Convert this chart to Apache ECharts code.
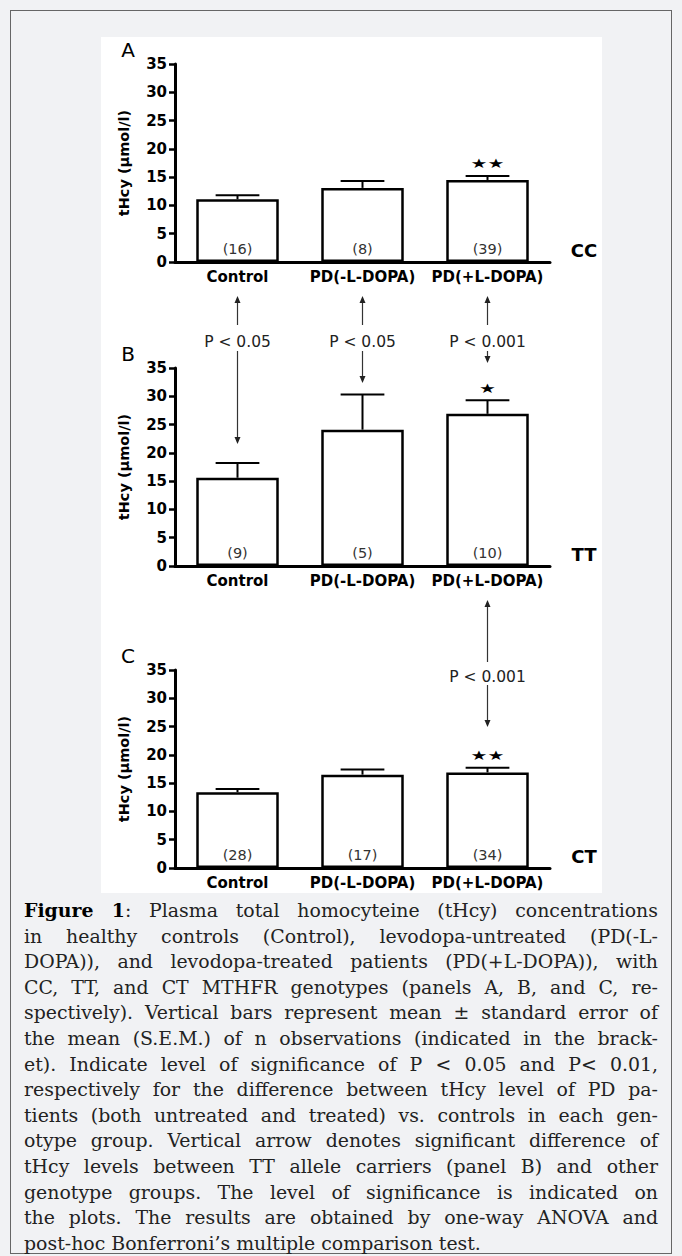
<!DOCTYPE html>
<html>
<head>
<meta charset="utf-8">
<script src="https://cdn.jsdelivr.net/npm/echarts@6/dist/echarts.min.js"></script>
<style>
html, body { margin: 0; padding: 0; background: #f1f2f4; }
body { width: 682px; height: 1256px; position: relative; overflow: hidden; }
.frame { position: absolute; left: 10px; top: 10px; width: 662px; height: 1244px; border: 1px solid #666; box-sizing: border-box; }
#chart { position: absolute; left: 101px; top: 37px; width: 501px; height: 856px; background: #fff; }
.caption { position: absolute; left: 24px; top: 898px; width: 634px; font-family: 'DejaVu Serif', serif; font-size: 18.9px; line-height: 25.6px; color: #222; }
.caption div { text-align: justify; text-align-last: justify; }
.caption div.last { text-align-last: left; }
.caption b { color: #000; }
</style>
</head>
<body>
<div class="frame"></div>
<div id="chart"></div>
<div class="caption">
  <div><b>Figure 1</b>: Plasma total homocyteine (tHcy) concentrations</div>
  <div>in healthy controls (Control), levodopa-untreated (PD(-L-</div>
  <div>DOPA)), and levodopa-treated patients (PD(+L-DOPA)), with</div>
  <div>CC, TT, and CT MTHFR genotypes (panels A, B, and C, re-</div>
  <div>spectively). Vertical bars represent mean ± standard error of</div>
  <div>the mean (S.E.M.) of n observations (indicated in the brack-</div>
  <div>et). Indicate level of significance of P &lt; 0.05 and P&lt; 0.01,</div>
  <div>respectively for the difference between tHcy level of PD pa-</div>
  <div>tients (both untreated and treated) vs. controls in each gen-</div>
  <div>otype group. Vertical arrow denotes significant difference of</div>
  <div>tHcy levels between TT allele carriers (panel B) and other</div>
  <div>genotype groups. The level of significance is indicated on</div>
  <div>the plots. The results are obtained by one-way ANOVA and</div>
  <div class="last">post-hoc Bonferroni’s multiple comparison test.</div>
</div>
<script>
// data
var categories = ['Control', 'PD(-L-DOPA)', 'PD(+L-DOPA)'];
var panelLetters = ['A', 'B', 'C'];
var genotypes = ['CC', 'TT', 'CT'];

var meanCC = [11.1, 13.1, 14.5];
var semCC = [0.7, 1.2, 0.7];
var nCC = [16, 8, 39];
var starsCC = ['', '', '★★'];

var meanTT = [15.6, 24.1, 26.9];
var semTT = [2.6, 6.2, 2.4];
var nTT = [9, 5, 10];
var starsTT = ['', '', '★'];

var meanCT = [13.4, 16.5, 16.9];
var semCT = [0.55, 0.9, 0.8];
var nCT = [28, 17, 34];
var starsCT = ['', '', '★★'];

var yMin = 0, yMax = 35, yStep = 5;

// significance between panel A and B (per category), and between B and C
var pAB = ['P < 0.05', 'P < 0.05', 'P < 0.001'];
var pBC = ['', '', 'P < 0.001'];

var means = [meanCC, meanTT, meanCT];
var sems = [semCC, semTT, semCT];
var ns = [nCC, nTT, nCT];
var stars = [starsCC, starsTT, starsCT];

// layout
var panelTop = [27, 331, 633];
var gridLeft = 74, gridWidth = 375, gridHeight = 198;
var font = 'DejaVu Sans';

var myChart = echarts.init(document.getElementById('chart'), null, { renderer: 'svg' });

function errorBars(panel) {
    return function (params, api) {
        var i = api.value(0);
        var base = api.coord([i, api.value(1)]);
        var top = api.coord([i, api.value(1) + api.value(2)]);
        var half = api.size([1, 0])[0] * 0.175;
        var children = [
            { type: 'line', shape: { x1: base[0], y1: base[1], x2: top[0], y2: top[1] }, style: { stroke: '#000', lineWidth: 2 } },
            { type: 'line', shape: { x1: top[0] - half, y1: top[1], x2: top[0] + half, y2: top[1] }, style: { stroke: '#000', lineWidth: 2 } }
        ];
        var s = stars[panel][params.dataIndex];
        if (s) {
            children.push({
                type: 'text', x: top[0], y: top[1] - 12, scaleX: 1.45,
                style: { text: s, fill: '#000', font: '13px ' + font, align: 'center', verticalAlign: 'middle' }
            });
        }
        return { type: 'group', children: children };
    };
}

var grids = [], xAxes = [], yAxes = [], series = [];
panelTop.forEach(function (t, i) {
    grids.push({ left: gridLeft, top: t, width: gridWidth, height: gridHeight });
    xAxes.push({
        type: 'category', gridIndex: i, data: categories,
        axisLine: { lineStyle: { color: '#000', width: 3 } },
        axisTick: { show: false },
        axisLabel: { interval: 0, margin: 7, color: '#000', fontFamily: font, fontWeight: 'bold', fontSize: 15 }
    });
    yAxes.push({
        type: 'value', gridIndex: i, min: yMin, max: yMax, interval: yStep,
        name: 'tHcy (µmol/l)', nameLocation: 'middle', nameGap: 44,
        nameTextStyle: { color: '#000', fontFamily: font, fontWeight: 'bold', fontSize: 14.5 },
        axisLine: { show: true, lineStyle: { color: '#000', width: 3 } },
        axisTick: { show: true, length: 6, lineStyle: { color: '#000', width: 2.5 } },
        axisLabel: { margin: 8, color: '#000', fontFamily: font, fontWeight: 'bold', fontSize: 15 },
        splitLine: { show: false }
    });
    series.push({
        type: 'bar', xAxisIndex: i, yAxisIndex: i, data: means[i], barWidth: '66%',
        itemStyle: { color: '#fff', borderColor: '#000', borderWidth: 2.5 },
        label: {
            show: true, position: 'insideBottom', distance: 6, color: '#333',
            fontFamily: font, fontSize: 14.5,
            formatter: function (p) { return '(' + ns[i][p.dataIndex] + ')'; }
        }
    });
    series.push({
        type: 'custom', xAxisIndex: i, yAxisIndex: i, z: 3,
        renderItem: errorBars(i),
        data: means[i].map(function (m, j) { return [j, m, sems[i][j]]; })
    });
});

var option = {
    animation: false,
    backgroundColor: '#fff',
    grid: grids,
    xAxis: xAxes,
    yAxis: yAxes,
    series: series
};
myChart.setOption(option);

// annotations: panel letters, genotype labels, significance arrows
function arrow(x, yFrom, yTip) {
    var dir = yTip < yFrom ? -1 : 1;
    var head = 7;
    return [
        { type: 'line', silent: true, shape: { x1: x, y1: yFrom, x2: x, y2: yTip - dir * head }, style: { stroke: '#333', lineWidth: 1.2 } },
        { type: 'polygon', silent: true, shape: { points: [[x, yTip], [x - 3, yTip - dir * head], [x + 3, yTip - dir * head]] }, style: { fill: '#222' } }
    ];
}
function pText(x, y, txt) {
    return { type: 'text', silent: true, x: x, y: y, style: { text: txt, fill: '#222', font: '15.5px ' + font, align: 'center', verticalAlign: 'middle' } };
}

var graphics = [];
panelTop.forEach(function (t, i) {
    graphics.push({ type: 'text', silent: true, x: 27, y: t - 14, style: { text: panelLetters[i], fill: '#000', font: '20px ' + font, align: 'center', verticalAlign: 'middle' } });
    graphics.push({ type: 'text', silent: true, x: 483, y: t + gridHeight - 12, style: { text: genotypes[i], fill: '#000', font: 'bold 18px ' + font, align: 'center', verticalAlign: 'middle' } });
});

// arrows between A and B
var abTop = panelTop[0] + gridHeight + 34;
var abTipsDown = [407, 346, 326];
categories.forEach(function (c, j) {
    if (!pAB[j]) return;
    var x = myChart.convertToPixel({ xAxisIndex: 0 }, c);
    graphics = graphics.concat(arrow(x, abTop + 29, abTop));
    graphics.push(pText(x, abTop + 46, pAB[j]));
    graphics = graphics.concat(arrow(x, abTop + 55, abTipsDown[j]));
});
// arrows between B and C
var bcTop = panelTop[1] + gridHeight + 34;
categories.forEach(function (c, j) {
    if (!pBC[j]) return;
    var x = myChart.convertToPixel({ xAxisIndex: 1 }, c);
    graphics = graphics.concat(arrow(x, bcTop + 62, bcTop));
    graphics.push(pText(x, bcTop + 77, pBC[j]));
    graphics = graphics.concat(arrow(x, bcTop + 85, bcTop + 127));
});

myChart.setOption({ graphic: graphics });
window.addEventListener('resize', function () {
    myChart.resize();
});
</script>
</body>
</html>
